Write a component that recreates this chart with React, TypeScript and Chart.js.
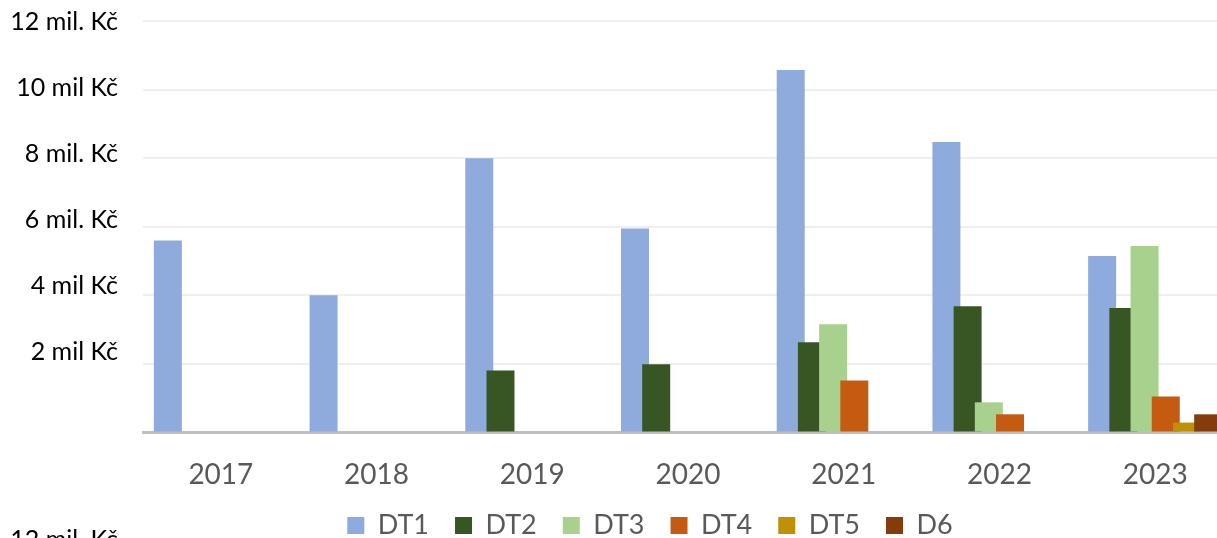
import React, { useEffect, useRef } from 'react';
import { Chart, registerables } from 'chart.js';

Chart.register(...registerables);

// ---- data (values in millions of Kč) ----
const categories = ['2017', '2018', '2019', '2020', '2021', '2022', '2023'];
const seriesNames = ['DT1', 'DT2', 'DT3', 'DT4', 'DT5', 'D6'];
const dt1 = [5.6, 4.0, 8.0, 5.95, 10.57, 8.47, 5.15];
const dt2 = [null, null, 1.81, 1.99, 2.63, 3.68, 3.63];
const dt3 = [null, null, null, null, 3.16, 0.88, 5.44];
const dt4 = [null, null, null, null, 1.52, 0.53, 1.05];
const dt5 = [null, null, null, null, null, null, 0.29];
const d6 = [null, null, null, null, null, null, 0.53];
const seriesColors = ['#8FAADC', '#375623', '#A9D18E', '#C55A11', '#BF9000', '#843C0C'];

const yAxisMax = 12;
const yAxisStep = 2;
const yTickValues = [2, 4, 6, 8, 10, 12];
const yTickLabels = ['2 mil Kč', '4 mil Kč', '6 mil. Kč', '8 mil. Kč', '10 mil Kč', '12 mil. Kč'];
const nextChartTopLabel = '12 mil. Kč';

const W = 1240;
const H = 549;
const LEGEND_SHIFT = 33.5;

// draw datasets in index order so later series sit on top of earlier ones
const layerPlugin = {
  id: 'layerOrder',
  beforeDatasetsDraw(chart: any) {
    const metas = chart.getSortedVisibleDatasetMetas().slice().sort((a: any, b: any) => a.index - b.index);
    metas.forEach((m: any) => m.controller.draw());
    return false;
  },
};

// centre the legend under the plot like the original
const legendShiftPlugin = {
  id: 'legendShift',
  afterLayout(chart: any) {
    const lg = chart.legend;
    if (lg) {
      lg.left += LEGEND_SHIFT;
      lg.right += LEGEND_SHIFT;
    }
  },
};

const noPad = (a: any) => {
  a.paddingTop = 0;
  a.paddingBottom = 0;
  a.paddingLeft = 0;
  a.paddingRight = 0;
};

export default function App() {
  const ref = useRef<HTMLCanvasElement | null>(null);

  useEffect(() => {
    if (!ref.current) return;
    const values = [dt1, dt2, dt3, dt4, dt5, d6];
    const chart = new Chart(ref.current, {
      type: 'bar',
      data: {
        labels: categories,
        datasets: seriesNames.map((name, i) => ({
          label: name,
          data: values[i],
          backgroundColor: seriesColors[i],
          borderWidth: 0,
          categoryPercentage: 0.817,
          barPercentage: 1.32,
        })),
      },
      options: {
        animation: false,
        responsive: false,
        maintainAspectRatio: false,
        layout: { padding: { left: 0, right: 7, top: 21, bottom: 0 } },
        plugins: {
          legend: {
            position: 'bottom',
            labels: {
              boxWidth: 17,
              boxHeight: 17,
              padding: 26,
              color: '#595959',
              font: { family: 'Lato', size: 27 },
            },
          },
          tooltip: { enabled: false },
        },
        scales: {
          x: {
            grid: { display: false, drawTicks: false },
            border: { display: true, color: '#C0C0C0', width: 3 },
            ticks: { color: '#595959', font: { family: 'Lato', size: 28 }, padding: 26 },
            afterFit: (a: any) => { a.height = 53.5; noPad(a); },
          },
          y: {
            position: 'left',
            weight: 0,
            min: 0,
            max: yAxisMax,
            ticks: { stepSize: yAxisStep, display: false },
            grid: { color: '#EFEFEF', lineWidth: 2, drawTicks: false },
            border: { display: false },
            afterFit: (a: any) => { a.width = 0; noPad(a); },
          },
          yl: {
            type: 'linear',
            position: 'left',
            weight: 1,
            min: -0.46,
            max: 12.04,
            afterBuildTicks: (a: any) => { a.ticks = yTickValues.map((v) => ({ value: v })); },
            afterFit: (a: any) => { a.width = 143; noPad(a); },
            grid: { display: false, drawTicks: false },
            border: { display: false },
            ticks: {
              padding: 25,
              color: '#000000',
              font: { family: 'Lato', size: 25 },
              autoSkip: false,
              callback: (_v: any, i: number) => yTickLabels[i],
            },
          },
        },
      },
      plugins: [layerPlugin, legendShiftPlugin],
    } as any);
    return () => chart.destroy();
  }, []);

  return (
    <div style={{ position: 'fixed', left: 0, top: 0, width: 1217, height: 538, overflow: 'hidden', background: '#ffffff' }}>
      <div style={{ position: 'absolute', left: 0, top: 0, width: W, height: H }}>
        <canvas ref={ref} width={W} height={H} style={{ width: W, height: H, display: 'block' }} />
      </div>
      <div
        style={{
          position: 'absolute',
          left: 0,
          top: 523,
          width: 118,
          textAlign: 'right',
          font: '25px Lato',
          lineHeight: '30px',
          color: '#000000',
          whiteSpace: 'nowrap',
        }}
      >
        {nextChartTopLabel}
      </div>
    </div>
  );
}
